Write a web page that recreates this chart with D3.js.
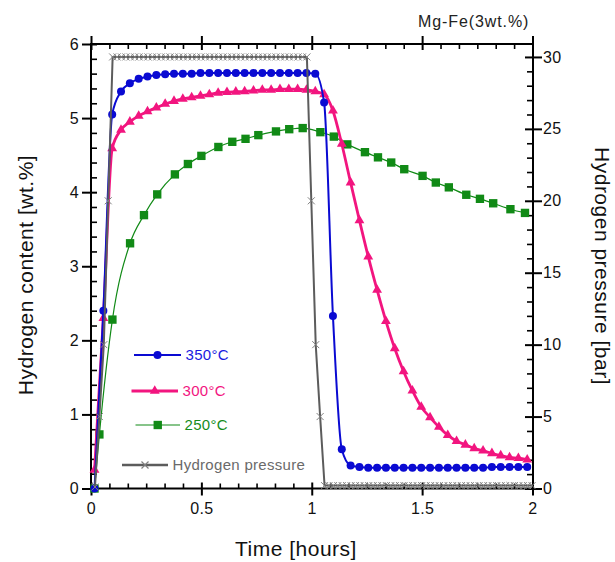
<!DOCTYPE html>
<html>
<head>
<meta charset="utf-8">
<script src="https://cdn.jsdelivr.net/npm/d3@7"></script>
<style>
  body { margin: 0; background: #fff; }
  svg text { font-family: "Liberation Sans", Arial, sans-serif; }
</style>
</head>
<body>
<div id="chart"></div>
<script>
// Sample times [hours] shared by the 350 and 300 degree runs
const sampleTime = [0.016, 0.056, 0.096, 0.136, 0.176, 0.216, 0.256, 0.296, 0.336, 0.376,
  0.416, 0.456, 0.496, 0.536, 0.576, 0.616, 0.656, 0.696, 0.736, 0.776,
  0.816, 0.856, 0.896, 0.936, 0.976, 1.016, 1.056, 1.096, 1.136, 1.176,
  1.216, 1.256, 1.296, 1.336, 1.376, 1.416, 1.456, 1.496, 1.536, 1.576,
  1.616, 1.656, 1.696, 1.736, 1.776, 1.816, 1.856, 1.896, 1.936, 1.976];

// Hydrogen content [wt.%]
const content350 = [0.00, 2.40, 5.05, 5.36, 5.47, 5.53, 5.56, 5.58, 5.59, 5.60,
  5.60, 5.60, 5.61, 5.61, 5.61, 5.61, 5.61, 5.61, 5.61, 5.61,
  5.61, 5.61, 5.61, 5.61, 5.61, 5.60, 5.21, 2.33, 0.53, 0.31,
  0.29, 0.28, 0.28, 0.28, 0.28, 0.28, 0.28, 0.28, 0.28, 0.28,
  0.28, 0.28, 0.28, 0.28, 0.28, 0.29, 0.29, 0.29, 0.29, 0.29];

const content300 = [0.25, 2.30, 4.59, 4.84, 4.95, 5.03, 5.09, 5.14, 5.19, 5.23,
  5.26, 5.28, 5.30, 5.32, 5.34, 5.35, 5.355, 5.36, 5.37, 5.38,
  5.38, 5.39, 5.39, 5.39, 5.38, 5.36, 5.32, 5.10, 4.65, 4.13,
  3.62, 3.13, 2.68, 2.26, 1.89, 1.58, 1.32, 1.10, 0.96, 0.83,
  0.72, 0.64, 0.59, 0.54, 0.51, 0.475, 0.445, 0.42, 0.41, 0.39];

const time250 = [0.016, 0.038, 0.097, 0.177, 0.24, 0.30, 0.38, 0.439, 0.50, 0.577,
  0.64, 0.70, 0.758, 0.838, 0.898, 0.959, 1.039, 1.10, 1.161, 1.241,
  1.30, 1.36, 1.419, 1.502, 1.562, 1.621, 1.70, 1.762, 1.822, 1.90, 1.966];
const content250 = [0.00, 0.73, 2.28, 3.31, 3.69, 3.97, 4.24, 4.38, 4.49, 4.61,
  4.68, 4.72, 4.77, 4.82, 4.85, 4.865, 4.81, 4.75, 4.645, 4.54,
  4.47, 4.40, 4.31, 4.22, 4.13, 4.065, 3.965, 3.91, 3.85, 3.77, 3.72];

// Hydrogen pressure [bar]
const pressureTime = [0.018, 0.038, 0.058, 0.078, 0.098, 0.118, 0.138, 0.158, 0.178, 0.198,
  0.218, 0.238, 0.258, 0.278, 0.298, 0.318, 0.338, 0.358, 0.378, 0.398,
  0.418, 0.438, 0.458, 0.478, 0.498, 0.518, 0.538, 0.558, 0.578, 0.598,
  0.618, 0.638, 0.658, 0.678, 0.698, 0.718, 0.738, 0.758, 0.778, 0.798,
  0.818, 0.838, 0.858, 0.878, 0.898, 0.918, 0.938, 0.958, 0.978, 0.998,
  1.018, 1.038, 1.058, 1.078, 1.098, 1.118, 1.138, 1.158, 1.178, 1.198,
  1.218, 1.238, 1.258, 1.278, 1.298, 1.318, 1.338, 1.358, 1.378, 1.398,
  1.418, 1.438, 1.458, 1.478, 1.498, 1.518, 1.538, 1.558, 1.578, 1.598,
  1.618, 1.638, 1.658, 1.678, 1.698, 1.718, 1.738, 1.758, 1.778, 1.798,
  1.818, 1.838, 1.858, 1.878, 1.898, 1.918, 1.938, 1.958, 1.978, 1.998];
const pressure = [0.1, 5, 10, 20, 30, 30, 30, 30, 30, 30,
  30, 30, 30, 30, 30, 30, 30, 30, 30, 30,
  30, 30, 30, 30, 30, 30, 30, 30, 30, 30,
  30, 30, 30, 30, 30, 30, 30, 30, 30, 30,
  30, 30, 30, 30, 30, 30, 30, 30, 30, 20,
  10, 5, 0.2, 0.2, 0.2, 0.2, 0.2, 0.2, 0.2, 0.2,
  0.2, 0.2, 0.2, 0.2, 0.2, 0.2, 0.2, 0.2, 0.2, 0.2,
  0.2, 0.2, 0.2, 0.2, 0.2, 0.2, 0.2, 0.2, 0.2, 0.2,
  0.2, 0.2, 0.2, 0.2, 0.2, 0.2, 0.2, 0.2, 0.2, 0.2,
  0.2, 0.2, 0.2, 0.2, 0.2, 0.2, 0.2, 0.2, 0.2, 0.2];

const xTicks = [0, 0.5, 1, 1.5, 2];
const xTickLabels = ['0', '0.5', '1', '1.5', '2'];
const leftTicks = [0, 1, 2, 3, 4, 5, 6];
const rightTicks = [0, 5, 10, 15, 20, 25, 30];
const seriesNames = ['350°C', '300°C', '250°C', 'Hydrogen pressure'];

function drawChart() {
  const width = 615, height = 562;
  const plot = { left: 91, right: 533, top: 44, bottom: 488.5 };

  const svg = d3.select('#chart').append('svg')
    .attr('width', width)
    .attr('height', height);

  const xScale = d3.scaleLinear().domain([0, 2]).range([plot.left, plot.right - 0.5]);
  const yLeft = d3.scaleLinear().domain([0, 6]).range([plot.bottom, plot.top]);
  const yRight = d3.scaleLinear().domain([0, 30.9]).range([plot.bottom, plot.top]);

  const colors = { c350: '#0a0ad2', c300: '#f2157f', c250: '#118a16', press: '#5c5c5c' };

  // minor tick positions
  const xMinor = d3.range(0, 2.001, 1 / 12).filter(v => Math.abs(v * 2 - Math.round(v * 2)) > 1e-6);
  const leftMinor = d3.range(0, 6.001, 0.2).filter(v => Math.abs(v - Math.round(v)) > 1e-6);
  const rightMinor = d3.range(0, 30.9, 1).filter(v => v % 5 !== 0);

  const styleTicks = (axis, major) => {
    axis.select('.domain').remove();
    axis.selectAll('.tick line')
      .attr('stroke', '#000')
      .attr('stroke-width', major ? 2 : 1.6);
    axis.selectAll('text')
      .style('font-size', '16px')
      .style('letter-spacing', '0.4px')
      .attr('fill', '#111');
  };

  // bottom axis
  const xAxis = svg.append('g')
    .attr('transform', `translate(0,${plot.bottom})`)
    .call(d3.axisBottom(xScale).tickValues(xTicks)
      .tickFormat((d, i) => xTickLabels[i]).tickSize(7).tickPadding(7));
  styleTicks(xAxis, true);
  xAxis.selectAll('.tick line').attr('y1', -6);

  const xAxisMinor = svg.append('g')
    .attr('transform', `translate(0,${plot.bottom})`)
    .call(d3.axisBottom(xScale).tickValues(xMinor).tickFormat('').tickSize(-5));
  styleTicks(xAxisMinor, false);

  // top axis
  const topAxis = svg.append('g')
    .attr('transform', `translate(0,${plot.top})`)
    .call(d3.axisTop(xScale).tickValues(xTicks).tickFormat('').tickSize(8));
  styleTicks(topAxis, true);
  topAxis.selectAll('.tick line').attr('y1', 6);

  const topMinor = svg.append('g')
    .attr('transform', `translate(0,${plot.top})`)
    .call(d3.axisTop(xScale).tickValues(xMinor).tickFormat('').tickSize(-5));
  styleTicks(topMinor, false);

  // left axis
  const yAxis = svg.append('g')
    .attr('transform', `translate(${plot.left},0)`)
    .call(d3.axisLeft(yLeft).tickValues(leftTicks).tickFormat(d3.format('d')).tickSize(9).tickPadding(3));
  styleTicks(yAxis, true);
  yAxis.selectAll('.tick line').attr('x1', 6);

  const yAxisMinor = svg.append('g')
    .attr('transform', `translate(${plot.left},0)`)
    .call(d3.axisLeft(yLeft).tickValues(leftMinor).tickFormat('').tickSize(-6));
  styleTicks(yAxisMinor, false);

  // right axis
  const y2Axis = svg.append('g')
    .attr('transform', `translate(${plot.right},0)`)
    .call(d3.axisRight(yRight).tickValues(rightTicks).tickFormat(d3.format('d')).tickSize(9).tickPadding(1));
  styleTicks(y2Axis, true);
  y2Axis.selectAll('.tick line').attr('x1', -8);

  const y2AxisMinor = svg.append('g')
    .attr('transform', `translate(${plot.right},0)`)
    .call(d3.axisRight(yRight).tickValues(rightMinor).tickFormat('').tickSize(-6));
  styleTicks(y2AxisMinor, false);

  // frame
  svg.append('rect')
    .attr('x', plot.left)
    .attr('y', plot.top)
    .attr('width', plot.right - plot.left)
    .attr('height', plot.bottom - plot.top)
    .attr('fill', 'none')
    .attr('stroke', '#000')
    .attr('stroke-width', 2);

  // axis titles
  svg.append('text')
    .attr('x', 296)
    .attr('y', 556)
    .attr('text-anchor', 'middle')
    .style('font-size', '21px')
    .style('letter-spacing', '0.5px')
    .attr('fill', '#111')
    .text('Time [hours]');

  svg.append('text')
    .attr('transform', 'translate(33,275) rotate(-90)')
    .attr('text-anchor', 'middle')
    .style('font-size', '21px')
    .style('letter-spacing', '0.5px')
    .attr('fill', '#111')
    .text('Hydrogen content [wt.%]');

  svg.append('text')
    .attr('transform', 'translate(595,266) rotate(90)')
    .attr('text-anchor', 'middle')
    .style('font-size', '21px')
    .style('letter-spacing', '0.5px')
    .attr('fill', '#111')
    .text('Hydrogen pressure [bar]');

  svg.append('text')
    .attr('x', 418)
    .attr('y', 27)
    .style('font-size', '16px')
    .style('letter-spacing', '0.9px')
    .attr('fill', '#222')
    .text('Mg-Fe(3wt.%)');

  // series
  const lineLeft = d3.line()
    .x(d => xScale(d[0]))
    .y(d => yLeft(d[1]))
    .curve(d3.curveMonotoneX);

  const lineRight = d3.line()
    .x(d => xScale(d[0]))
    .y(d => yRight(d[1]));

  const data350 = sampleTime.map((t, i) => [t, content350[i]]);
  const data300 = sampleTime.map((t, i) => [t, content300[i]]);
  const data250 = time250.map((t, i) => [t, content250[i]]);
  const dataP = pressureTime.map((t, i) => [t, pressure[i]]);

  const triangle = d3.symbol().type(d3.symbolTriangle).size(42);
  const square = d3.symbol().type(d3.symbolSquare).size(70);
  const cross = 'M-3.5,-3.5L3.5,3.5M-3.5,3.5L3.5,-3.5';

  // 250
  svg.append('path')
    .datum(data250)
    .attr('fill', 'none')
    .attr('stroke', colors.c250)
    .attr('stroke-width', 1.2)
    .attr('d', lineLeft);
  svg.append('g').selectAll('path')
    .data(data250)
    .enter().append('path')
    .attr('d', square)
    .attr('transform', d => `translate(${xScale(d[0])},${yLeft(d[1])})`)
    .attr('fill', colors.c250);

  // 300
  svg.append('path')
    .datum(data300)
    .attr('fill', 'none')
    .attr('stroke', colors.c300)
    .attr('stroke-width', 2.8)
    .attr('d', lineLeft);
  svg.append('g').selectAll('path')
    .data(data300)
    .enter().append('path')
    .attr('d', triangle)
    .attr('transform', d => `translate(${xScale(d[0])},${yLeft(d[1])})`)
    .attr('fill', colors.c300);

  // 350
  svg.append('path')
    .datum(data350)
    .attr('fill', 'none')
    .attr('stroke', colors.c350)
    .attr('stroke-width', 2)
    .attr('d', lineLeft);
  svg.append('g').selectAll('circle')
    .data(data350)
    .enter().append('circle')
    .attr('cx', d => xScale(d[0]))
    .attr('cy', d => yLeft(d[1]))
    .attr('r', 4)
    .attr('fill', colors.c350);

  // pressure
  svg.append('path')
    .datum(dataP)
    .attr('fill', 'none')
    .attr('stroke', colors.press)
    .attr('stroke-width', 2)
    .attr('d', lineRight);
  svg.append('g').selectAll('path')
    .data(dataP)
    .enter().append('path')
    .attr('d', cross)
    .attr('transform', d => `translate(${xScale(d[0])},${yRight(d[1])})`)
    .attr('fill', 'none')
    .attr('stroke', '#808080')
    .attr('stroke-width', 1);

  // legend
  const legendItems = [
    { name: seriesNames[0], color: colors.c350, x1: 134, x2: 181, y: 355, width: 2, marker: 'circle', text: '#1a1ae0' },
    { name: seriesNames[1], color: colors.c300, x1: 131.5, x2: 178, y: 391, width: 3, marker: 'triangle', text: '#f2157f' },
    { name: seriesNames[2], color: colors.c250, x1: 135.5, x2: 180, y: 425, width: 1.2, marker: 'square', text: '#168c1a' },
    { name: seriesNames[3], color: colors.press, x1: 122, x2: 168, y: 465, width: 2.5, marker: 'cross', text: '#6a6a6a' }
  ];

  legendItems.forEach(item => {
    const lg = svg.append('g');
    const mx = (item.x1 + item.x2) / 2;
    lg.append('line')
      .attr('x1', item.x1).attr('x2', item.x2)
      .attr('y1', item.y).attr('y2', item.y)
      .attr('stroke', item.color)
      .attr('stroke-width', item.width);
    if (item.marker === 'circle') {
      lg.append('circle').attr('cx', mx).attr('cy', item.y).attr('r', 4).attr('fill', item.color);
    } else if (item.marker === 'triangle') {
      lg.append('path').attr('d', triangle).attr('transform', `translate(${mx},${item.y})`).attr('fill', item.color);
    } else if (item.marker === 'square') {
      lg.append('path').attr('d', square).attr('transform', `translate(${mx},${item.y})`).attr('fill', item.color);
    } else {
      lg.append('path').attr('d', cross).attr('transform', `translate(${mx},${item.y})`)
        .attr('fill', 'none').attr('stroke', '#808080').attr('stroke-width', 1.2);
    }
    lg.append('text')
      .attr('x', item.x2 + 4.5)
      .attr('y', item.y)
      .attr('dy', '0.36em')
      .style('font-size', '15px')
      .style('letter-spacing', '0.3px')
      .attr('fill', item.text)
      .text(item.name);
  });
}

drawChart();
</script>
</body>
</html>
